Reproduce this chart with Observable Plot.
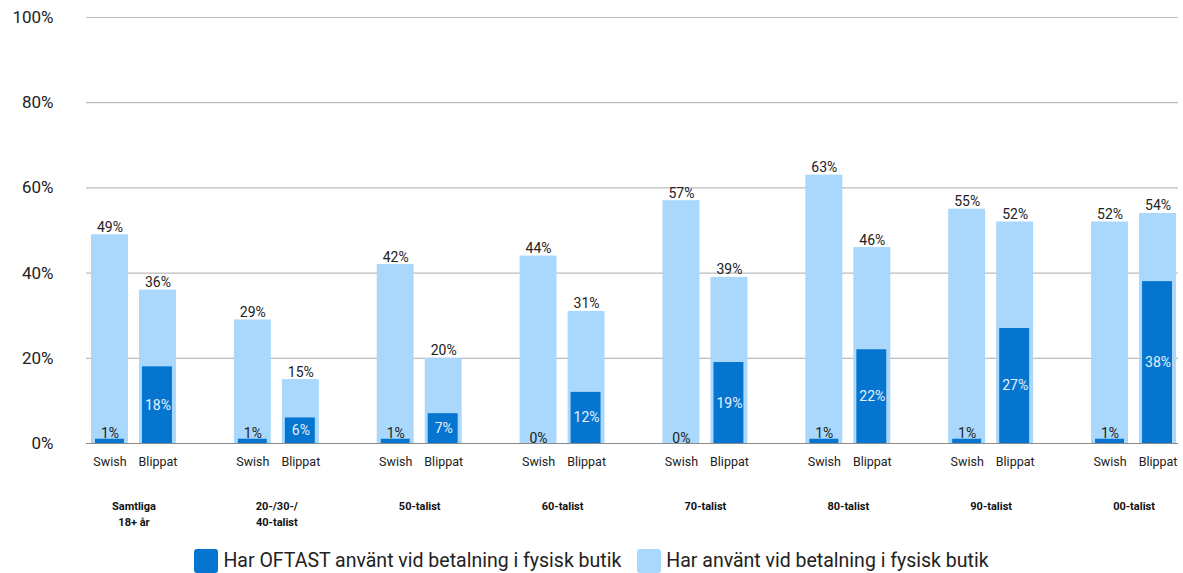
<!DOCTYPE html>
<html><head><meta charset="utf-8">
<script src="https://cdn.jsdelivr.net/npm/d3@7"></script>
<script src="https://cdn.jsdelivr.net/npm/@observablehq/plot@0.6"></script>
<style>
html,body{margin:0;padding:0;background:#fff;}
body{width:1183px;height:573px;overflow:hidden;font-family:Roboto,"Liberation Sans",Arial,sans-serif;}
#chart svg{display:block;}
#legend{display:flex;justify-content:center;align-items:center;height:24px;padding-top:9px;padding-left:0;font-size:19.5px;line-height:1;color:#222;}
.item{display:flex;align-items:center;margin:0 8px;}
.sw{width:24px;height:24px;border-radius:3px;margin-right:5px;}
</style></head><body>
<div id="chart"></div>
<div id="legend"></div>
<script>
const groups = ["Samtliga\n18+ år","20-/30-/\n40-talist","50-talist","60-talist","70-talist","80-talist","90-talist","00-talist"];
const methods = ["Swish","Blippat"];
const swishTotal = [49,29,42,44,57,63,55,52];
const swishOften = [1,1,1,0,0,1,1,1];
const blippatTotal = [36,15,20,31,39,46,52,54];
const blippatOften = [18,6,7,12,19,22,27,38];
const yTicks = [0,20,40,60,80,100];
const seriesNames = ["Har OFTAST använt vid betalning i fysisk butik","Har använt vid betalning i fysisk butik"];
const colors = ["#0575d0","#a9d8fc"];

const swish = groups.map((g,i)=>({group:g, method:methods[0], total:swishTotal[i], often:swishOften[i]}));
const blippat = groups.map((g,i)=>({group:g, method:methods[1], total:blippatTotal[i], often:blippatOften[i]}));

const font = "Roboto, 'Liberation Sans', Arial, sans-serif";
const chart = Plot.plot({
  width:1183, height:540,
  marginLeft:86, marginRight:5, marginTop:17, marginBottom:97,
  style:{fontFamily:font, background:"#fff", overflow:"visible"},
  x:{domain:groups, range:[91,1176], paddingInner:0.4056, paddingOuter:0, round:false, axis:null},
  y:{domain:[0,100], axis:null},
  marks:[
    Plot.gridY(yTicks.slice(1), {stroke:"#bdbdbd", strokeOpacity:1, strokeWidth:1.2}),
    Plot.axisY(yTicks, {tickSize:0, tickPadding:33, tickFormat:d=>d+"%", fontSize:17, fill:"#222"}),
    Plot.barY(swish, {x:"group", y:"total", fill:colors[1], insetRight:48}),
    Plot.barY(blippat, {x:"group", y:"total", fill:colors[1], insetLeft:48}),
    Plot.barY(swish, {x:"group", y:"often", fill:colors[0], insetLeft:4, insetRight:52}),
    Plot.barY(blippat, {x:"group", y:"often", fill:colors[0], insetLeft:51, insetRight:4}),
    Plot.ruleY([0], {stroke:"#8a8a8a", strokeWidth:1.2}),
    Plot.text(swish, {x:"group", y:"total", text:d=>d.total+"%", dx:-24, dy:-3, lineAnchor:"bottom", fontSize:14, fill:"#222"}),
    Plot.text(blippat, {x:"group", y:"total", text:d=>d.total+"%", dx:24, dy:-3, lineAnchor:"bottom", fontSize:14, fill:"#222"}),
    Plot.text(swish, {x:"group", y:"often", text:d=>d.often+"%", dx:-24, dy:-1, lineAnchor:"bottom", fontSize:14, fill:"#222"}),
    Plot.text(blippat, {x:"group", y:d=>d.often/2, text:d=>d.often+"%", dx:24, fontSize:14, fill:"#e6f2fd"}),
    Plot.text(swish, {x:"group", frameAnchor:"bottom", text:"method", dx:-24, dy:22, fontSize:12.5, fill:"#222"}),
    Plot.text(blippat, {x:"group", frameAnchor:"bottom", text:"method", dx:24, dy:22, fontSize:12.5, fill:"#222"}),
    Plot.text(groups, {x:d=>d, frameAnchor:"bottom", text:d=>d, dy:55, lineAnchor:"top", lineHeight:1.45, fontSize:11, fontWeight:"bold", fill:"#111"})
  ]
});
document.getElementById("chart").appendChild(chart);

const legend = d3.select("#legend");
seriesNames.forEach((n,i)=>{
  const it = legend.append("div").attr("class","item");
  it.append("div").attr("class","sw").style("background",colors[i]);
  it.append("span").text(n);
});
</script>
</body></html>
